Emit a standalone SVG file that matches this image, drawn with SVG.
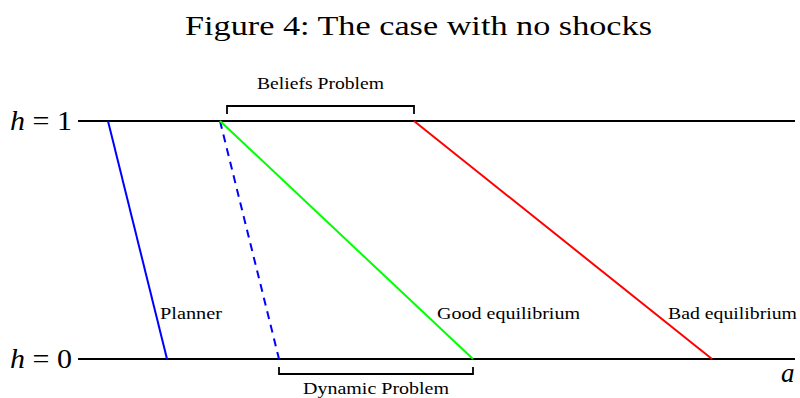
<svg xmlns="http://www.w3.org/2000/svg" width="800" height="398" viewBox="0 0 800 398">
<style>
text{font-family:"Liberation Serif","DejaVu Serif",serif;fill:#000}
.ax{stroke:#000;stroke-width:2;fill:none}
.br{stroke:#000;stroke-width:1.8;fill:none}
.lab{font-size:17px}
.big{font-size:27px}
</style>
<rect width="800" height="398" fill="#fff"/>
<text class="big" x="185" y="35" textLength="467" lengthAdjust="spacingAndGlyphs">Figure 4: The case with no shocks</text>
<g id="axes">
<line class="ax" x1="78" y1="121" x2="795" y2="121"/>
<line class="ax" x1="78" y1="359" x2="795" y2="359"/>
<text class="big" x="10" y="130" textLength="62" lengthAdjust="spacingAndGlyphs"><tspan font-style="italic">h</tspan> = 1</text>
<text class="big" x="10" y="368" textLength="62" lengthAdjust="spacingAndGlyphs"><tspan font-style="italic">h</tspan> = 0</text>
<text class="big" x="781" y="382" font-style="italic">a</text>
</g>
<g id="connectors">
<line id="planner" x1="108" y1="121" x2="167" y2="359" stroke="#0000ff" stroke-width="2"/>
<line id="dashed" x1="220" y1="121" x2="279" y2="359" stroke="#0000ff" stroke-width="2" stroke-dasharray="8,6"/>
<line id="good" x1="220" y1="121" x2="473" y2="359" stroke="#00ff00" stroke-width="2"/>
<line id="bad" x1="414" y1="121" x2="712" y2="359" stroke="#ff0000" stroke-width="2"/>
</g>
<g id="beliefs">
<path class="br" d="M227,114 V106 H414 V114"/>
<text class="lab" x="257" y="89" textLength="127" lengthAdjust="spacingAndGlyphs">Beliefs Problem</text>
</g>
<g id="dynamic">
<path class="br" d="M279,367 V374 H473 V367"/>
<text class="lab" x="303" y="394" textLength="146" lengthAdjust="spacingAndGlyphs">Dynamic Problem</text>
</g>
<text class="lab" x="160" y="319" textLength="62" lengthAdjust="spacingAndGlyphs">Planner</text>
<text class="lab" x="437" y="319" textLength="143" lengthAdjust="spacingAndGlyphs">Good equilibrium</text>
<text class="lab" x="668" y="319" textLength="129" lengthAdjust="spacingAndGlyphs">Bad equilibrium</text>
</svg>
